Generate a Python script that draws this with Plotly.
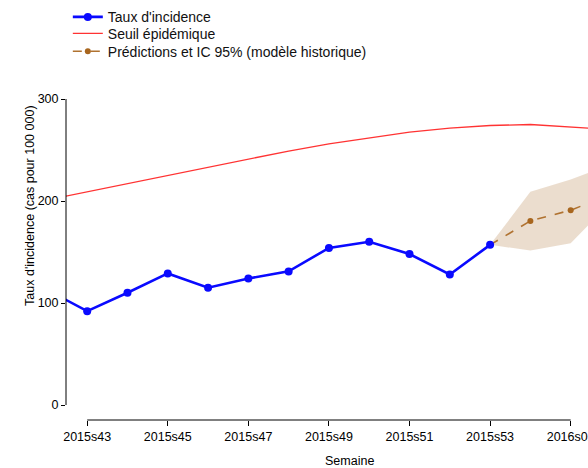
import plotly.graph_objects as go

# ---- data ----
weeks = ["2015s42", "2015s43", "2015s44", "2015s45", "2015s46", "2015s47", "2015s48",
         "2015s49", "2015s50", "2015s51", "2015s52", "2015s53", "2016s01", "2016s02",
         "2016s03", "2016s04"]

obs_weeks = weeks[0:12]
incidence = [113, 92, 110, 129, 115, 124, 131, 154, 160, 148, 128, 157]

seuil_weeks = weeks
seuil = [201, 209, 217, 225, 233, 241, 249, 256, 262, 267.5, 271.5, 274, 275, 273, 270, 266]

pred_weeks = ["2015s53", "2016s01", "2016s02", "2016s03"]
pred = [157, 180.5, 191, 206.5]
pred_low = [157, 151.5, 158.5, 199]
pred_high = [157, 209, 221, 236]

tick_labels = ["2015s43", "2015s45", "2015s47", "2015s49", "2015s51", "2015s53", "2016s02"]
y_ticks = [0, 100, 200, 300]

pos = {w: i for i, w in enumerate(weeks)}
X = lambda ws: [pos[w] for w in ws]

FONT = "Liberation Sans, Arial, Helvetica, sans-serif"

fig = go.Figure()

# CI band
fig.add_trace(go.Scatter(
    x=X(pred_weeks) + X(pred_weeks)[::-1],
    y=pred_high + pred_low[::-1],
    fill="toself", fillcolor="rgba(176,120,60,0.25)",
    line=dict(width=0, color="rgba(0,0,0,0)"),
    mode="lines", showlegend=False, hoverinfo="skip"))

fig.add_trace(go.Scatter(
    x=X(seuil_weeks), y=seuil, mode="lines", name="Seuil épidémique",
    line=dict(color="#FF3333", width=1.3), legend="legend2"))

fig.add_trace(go.Scatter(
    x=X(pred_weeks), y=pred, mode="lines+markers",
    name="Prédictions et IC 95% (modèle historique)",
    line=dict(color="#B07230", width=1.6, dash="dash"),
    marker=dict(color="#A8661E", size=6), legend="legend3"))

fig.add_trace(go.Scatter(
    x=X(obs_weeks), y=incidence, mode="lines+markers", name="Taux d'incidence",
    line=dict(color="#0A0AFF", width=2.6),
    marker=dict(color="#0A0AFF", size=8), legend="legend"))

# R-style detached axis lines
fig.add_shape(type="line", xref="paper", yref="y", x0=0, x1=0, y0=0, y1=300,
              line=dict(color="black", width=1))
fig.add_shape(type="line", xref="x", yref="paper", x0=pos["2015s43"], x1=pos["2016s02"],
              y0=0, y1=0, line=dict(color="black", width=1))

leg_common = dict(xanchor="left", yanchor="middle",
                  font=dict(size=14, color="#111111"), bgcolor="rgba(0,0,0,0)")

fig.update_layout(
    width=588, height=468,
    margin=dict(l=66, r=0, t=99, b=48, autoexpand=False),
    plot_bgcolor="white", paper_bgcolor="white",
    font=dict(family=FONT, size=12.5, color="black"),
    xaxis=dict(range=[0.474, 13.43], tickmode="array",
               tickvals=X(tick_labels), ticktext=tick_labels,
               ticks="outside", ticklen=5, tickcolor="black", tickwidth=1,
               showgrid=False, zeroline=False, showline=False,
               ticklabeloverflow="allow", automargin=False,
               tickfont=dict(size=12.5)),
    yaxis=dict(range=[-14.7, 300], tickmode="array", tickvals=y_ticks,
               ticks="outside", ticklen=4, tickcolor="black", tickwidth=1,
               showgrid=False, zeroline=False, showline=False, automargin=False,
               tickfont=dict(size=12.5)),
    legend=dict(x=0.0035, y=1.2545, **leg_common),
    legend2=dict(x=0.0035, y=1.2034, **leg_common),
    legend3=dict(x=0.0035, y=1.1474, **leg_common),
    showlegend=True,
    annotations=[
        dict(text="Semaine", xref="paper", yref="paper", x=0.544, y=-0.128,
             xanchor="center", yanchor="middle", showarrow=False,
             font=dict(size=12.5)),
        dict(text="Taux d'incidence (cas pour 100 000)", xref="paper", yref="paper",
             x=-0.069, y=0.667, xanchor="center", yanchor="middle", textangle=-90,
             showarrow=False, font=dict(size=12.5)),
    ],
)

fig.write_html("out.html", config={"displayModeBar": False},
               post_script="document.body.style.margin='0';document.body.style.padding='0';document.body.style.overflow='hidden';")
